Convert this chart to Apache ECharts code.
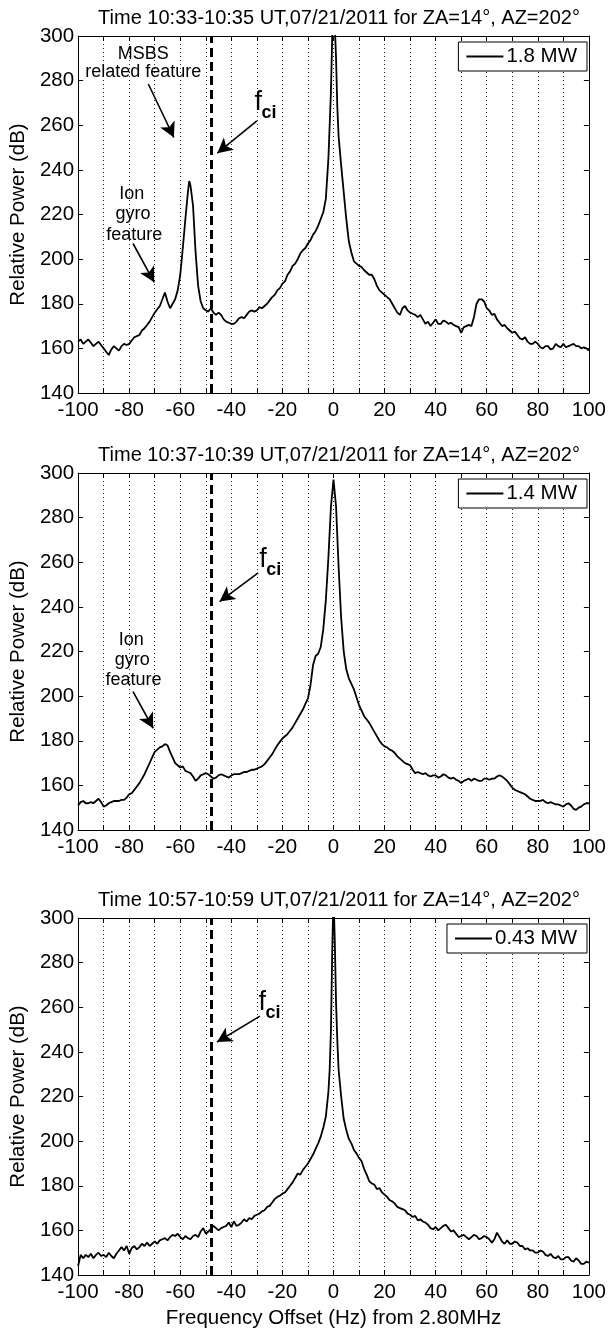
<!DOCTYPE html>
<html><head><meta charset="utf-8">
<script src="https://cdn.jsdelivr.net/npm/echarts@6/dist/echarts.min.js"></script>
<style>html,body{margin:0;padding:0;background:#fff}#c{width:609px;height:1336px}</style>
</head><body><div id="c"></div>
<script>
// ---------- DATA ----------
const titles = [
  'Time 10:33-10:35 UT,07/21/2011 for ZA=14°, AZ=202°',
  'Time 10:37-10:39 UT,07/21/2011 for ZA=14°, AZ=202°',
  'Time 10:57-10:59 UT,07/21/2011 for ZA=14°, AZ=202°'
];
const powerLabels = ['1.8 MW', '1.4 MW', '0.43 MW'];
const xTickLabels = [-100, -80, -60, -40, -20, 0, 20, 40, 60, 80, 100];
const yTickLabels = [140, 160, 180, 200, 220, 240, 260, 280, 300];
const fci = -48;

// [frequency offset (Hz), relative power (dB)]
const spectrum1 = [
[-100,163],[-99,164],[-98,162],[-97,163],[-96,164],[-95,162.5],[-94,161],[-93,162],[-92,163],[-91,161.5],[-90,160],[-89,158.5],[-88,157],[-87,159.5],[-86,161],[-85,160],[-84,159],[-83,161],[-82,162],[-81,161.5],[-80,162],[-79,163.5],[-78,165],[-77,165.5],[-76,166],[-75,168],[-74,169],[-73,170.5],[-72,172],[-71,174],[-70,176],[-69,177.5],[-68,179],
[-67,182],[-66,185],[-65,181],[-64,178],[-63,180],[-62,182],[-61,186],[-60,193],[-59,205],[-58,218],[-57,230],[-56.5,235],[-56,233],[-55,224],[-54,203],[-53,188],[-52,181],[-51,178],[-50,177],[-49,176.5],[-48,178],[-47,176],[-46,175],[-45,176],[-44,175],[-43,173],[-42,172],[-41,171.5],[-40,171],[-39,171],[-38,172],[-37,173.5],[-36,174],[-35,173.5],[-34,175],[-33,176.5],[-32,177],[-31,176.5],[-30,177],[-29,178.5],[-28,178],[-27,179],[-26,180],[-25,181.5],[-24,183],[-23,184],[-22,186],[-21,187],[-20,189],[-19,190],[-18,193],[-17,194.5],[-16,197],[-15,198],[-14,200],[-13,202.5],[-12,204],[-11,205],[-10,207],[-9,208.5],[-8,211],[-7,212.5],[-6,215],[-5,218],[-4,221],[-3,227],[-2,245],[-1,275],[-0.5,300],[0,310],[0.5,305],[1,290],[1.5,268],[2,255],[3,242],[4,230],[5,218],[6,208],[7,203],[8,199],[9,198],[10,197],[11,196.5],[12,195],[13,194],[14,193],[15,193],[16,191],[17,188],[18,186],[19,185],
[20,184],[21,183],[22,182],[23,180],[24,178],[25,176],[26,175],[27,178],[28,179],[29,177],[30,176],[31,175.5],[32,175],[33,174],[34,175],[35,173],[36,171],[37,172],[38,170],[39,171.5],[40,173],[41,171],[42,171],[43,172.5],[44,172],[45,171],[46,171.5],[47,170.5],[48,170],[49,169.5],[50,167],[51,169.5],[52,170],[53,170.5],[54,170],[55,174],[56,180],[57,182],[58,182],[59,181],[60,178],[61,177],[62,175],[63,175.5],[64,173],[65,171.5],[66,170],[67,170.5],[68,169],[69,168],[70,167],[71,167.5],[72,166],[73,164.5],[74,164],[75,165],[76,163],[77,162],[78,162],[79,163],[80,162],[81,160.5],[82,160],[83,161],[84,161],[85,159.5],[86,160],[87,162],[88,161],[89,160.5],[90,162],[91,160.5],[92,161],[93,161.5],[94,162],[95,161],[96,161],[97,160],[98,160.5],[99,160],[100,159]
];

const spectrum2 = [
[-100,151],[-99,152.5],[-98,153],[-97,152],[-96,152],[-95,152.5],[-94,152],[-93,153],[-92,154],[-91,152.5],[-90,150.5],[-89,151],[-88,152],[-87,152.5],[-86,153],[-85,153],[-84,153],[-83,153.5],[-82,153.5],[-81,154.5],[-80,156],[-79,156.5],[-78,158],[-77,159.5],[-76,161],[-75,163],[-74,165],[-73,167.5],[-72,170],[-71,172.5],[-70,175],[-69,176],[-68,177],[-67,177.5],[-66,178.5],[-65,178],[-64,175],[-63,172.5],[-62,170],[-61,169],[-60,168],[-59,168.5],[-58,166.5],[-57,166],[-56,165.5],[-55,164],[-54,162],[-53,163],[-52,164.5],[-51,165],[-50,165.5],[-49,165],[-48,164],[-47,163],[-46,163.5],[-45,164.5],[-44,165],[-43,164.5],[-42,164],[-41,163.5],[-40,164.5],[-39,165],[-38,165],[-37,165],[-36,165.5],[-35,166],[-34,166],[-33,166.5],[-32,167],[-31,167],[-30,167.5],[-29,168],[-28,168.5],[-27,169.5],[-26,171],[-25,172.5],[-24,174],[-23,176],[-22,178],[-21,179.5],[-20,181],[-19,182],[-18,183],[-17,184.5],[-16,186],[-15,188],[-14,190],[-13,192],[-12,194],[-11,196.5],[-10,199],[-9,205],[-8,214],[-7,218],[-6,219],[-5,222],[-4,230],[-3,243],[-2,262],[-1,285],[0,297],[1,285],[2,258],[3,235],[4,220],[5,212],[6,208],[7,205.5],[8,203],[9,199.5],[10,196],[11,193.5],[12,191],[13,189.5],[14,188],[15,186],[16,184],[17,182],[18,180],[19,178.5],[20,177.5],[21,177],[22,176],[23,175.5],[24,174.5],[25,173],[26,172],[27,171],[28,170],[29,169.5],[30,169],[31,167],[32,165.5],[33,166],[34,165.5],[35,165],[36,165.5],[37,164.5],[38,164],[39,164.5],[40,164.5],[41,163.5],[42,164],[43,165],[44,164.5],[45,163.5],[46,163],[47,163.5],[48,162.5],[49,162],[50,161],[51,162],[52,162.5],[53,163],[54,162],[55,163],[56,162.5],[57,162],[58,162],[59,163],[60,163],[61,162.5],[62,163],[63,163],[64,164],[65,164.5],[66,164],[67,163],[68,162],[69,160.5],[70,159],[71,158],[72,157.5],[73,157],[74,156.5],[75,156],[76,155],[77,154],[78,153.5],[79,153],[80,153],[81,153],[82,153.5],[83,152.5],[84,152],[85,152.5],[86,152],[87,151.5],[88,151.5],[89,151],[90,150.5],[91,151.5],[92,152],[93,151],[94,149.5],[95,149],[96,150],[97,150.5],[98,151.5],[99,152],[100,152]
];

const spectrum3 = [
[-100,144],[-99,149],[-98,147.5],[-97,149],[-96,148],[-95,149.5],[-94,147.5],[-93,149],[-92,150],[-91,148.5],[-90,149],[-89,148],[-88,150],[-87,148.5],[-86,147.5],[-85,149.5],[-84,151],[-83,152.5],[-82,151],[-81,153],[-80,149.5],[-79,152],[-78,153],[-77,151.5],[-76,152.5],[-75,154],[-74,153],[-73,154.5],[-72,153],[-71,154],[-70,155],[-69,154],[-68,155.5],[-67,156],[-66,156.5],[-65,155.5],[-64,157],[-63,158],[-62,157.5],[-61,158.5],[-60,157],[-59,156],[-58,157.5],[-57,156.5],[-56,156],[-55,157.5],[-54,158],[-53,157],[-52,159.5],[-51,161],[-50,158.5],[-49,159.5],[-48,160.5],[-47,162],[-46,161],[-45,160],[-44,161],[-43,161.5],[-42,162],[-41,163.5],[-40,161.5],[-39,164],[-38,162],[-37,162.5],[-36,163.5],[-35,165],[-34,164],[-33,165.5],[-32,165],[-31,166.5],[-30,167],[-29,167.5],[-28,168.5],[-27,169],[-26,170.5],[-25,171],[-24,172.5],[-23,174],[-22,175],[-21,175.5],[-20,176.5],[-19,177],[-18,178.5],[-17,180],[-16,181.5],[-15,183.5],[-14,185.5],[-13,185],[-12,187],[-11,188.5],[-10,190],[-9,192],[-8,194],[-7,196.5],[-6,199],
[-5,202],[-4,206],[-3,211],[-2,222],[-1.5,232],[-1,250],[-0.5,285],[0,310],[0.5,290],[1,262],[1.5,245],[2,232],[3,220],[4,210],[5,205],
[6,201],[7,199],[8,196],[9,194.5],[10,192.5],[11,191],[12,187.5],[13,185],[14,182],[15,181],[16,180.5],[17,178.5],[18,179],[19,177],[20,176],[21,175],[22,173.5],[23,173],[24,172],[25,170.5],[26,170],[27,169.5],[28,169],[29,167.5],[30,167],[31,166],[32,166.5],[33,164.5],[34,165],[35,164],[36,163.5],[37,162.5],[38,161],[39,160.5],[40,161.5],[41,160],[42,161],[43,162],[44,162.5],[45,161],[46,159.5],[47,160],[48,158.5],[49,157],[50,157.5],[51,158],[52,157],[53,156],[54,157],[55,158],[56,157.5],[57,156],[58,156.5],[59,157.5],[60,157],[61,156],[62,154.5],[63,156],[64,159],[65,157],[66,155],[67,154],[68,155.5],[69,154],[70,154],[71,155],[72,154.5],[73,153],[74,153],[75,151.5],[76,152],[77,151],[78,151],[79,150],[80,150],[81,151],[82,150.5],[83,149],[84,148.5],[85,149.5],[86,148],[87,147.5],[88,148.5],[89,147],[90,147],[91,148],[92,148],[93,146.5],[94,146],[95,147.5],[96,146.5],[97,145],[98,145],[99,146],[100,145.5]
];

// annotation texts [text, x, y] and arrows [x1, y1, x2, y2] (data coordinates)
const notes1 = [['MSBS', -74.5, 292], ['related feature', -74.5, 284], ['Ion', -79, 229], ['gyro', -78.5, 220], ['feature', -78, 211]];
const notes2 = [['Ion', -79.2, 225.3], ['gyro', -78.8, 216.3], ['feature', -78.3, 207.3]];
const notes3 = [];
const fciText = [[-29.5, 270], [-27.6, 261], [-27.9, 262]];
const arrows1 = [[-72.5, 278.5, -62.5, 254.5], [-78.5, 207, -70.2, 189.6], [-30, 262, -45.5, 247.5]];
const arrows2 = [[-78.5, 202, -70.6, 185.6], [-29.5, 255.2, -44.6, 242.4]];
const arrows3 = [[-28.8, 256, -45.6, 244.4]];

// ---------- LAYOUT ----------
const FONT = "'Liberation Sans', Arial, sans-serif";
const gridTops = [36, 473, 918];
const plotH = 357, plotL = 76, plotR = 16;
const spectra = [spectrum1, spectrum2, spectrum3];
const notes = [notes1, notes2, notes3], arrows = [arrows1, arrows2, arrows3];

const grid = [], xAxis = [], yAxis = [], series = [], title = [], legend = [];
for (let g = 0; g < 3; g++) {
  grid.push({left: plotL, right: plotR, top: gridTops[g], height: plotH, containLabel: false});
  title.push({text: titles[g], left: plotL + 258, top: gridTops[g] - 33, textAlign: 'center',
    textStyle: {fontFamily: FONT, fontSize: 20, fontWeight: 'normal', color: '#000'}});
  legend.push({data: [powerLabels[g]], right: 22, top: gridTops[g] + 6, orient: 'vertical',
    icon: 'rect', itemWidth: 37, itemHeight: 2, padding: [4, 10, 4, 8],
    backgroundColor: '#fff', borderColor: '#000', borderWidth: 1, borderRadius: 0,
    textStyle: {fontFamily: FONT, fontSize: 20.5, color: '#000', padding: [0, 0, 0, -2]}});
  const tickStyle = {inside: true, length: 5, lineStyle: {color: '#000', width: 1}};
  xAxis.push({type: 'value', gridIndex: g, min: -100, max: 100, interval: 10, position: 'bottom',
    axisLine: {show: true, onZero: false, lineStyle: {color: '#000', width: 1}},
    axisTick: tickStyle,
    axisLabel: {formatter: v => xTickLabels.includes(v) ? String(v) : '', color: '#000', fontSize: 20.5, fontFamily: FONT, margin: 7},
    splitLine: {show: true, lineStyle: {color: '#222', type: [1, 3], width: 1}},
    name: g === 2 ? 'Frequency Offset (Hz) from 2.80MHz' : '', nameLocation: 'middle', nameGap: 33,
    nameTextStyle: {fontFamily: FONT, fontSize: 20.5, color: '#000'}});
  xAxis.push({type: 'value', gridIndex: g, min: -100, max: 100, interval: 10, position: 'top',
    axisLine: {show: true, onZero: false, lineStyle: {color: '#000', width: 1}},
    axisTick: tickStyle, axisLabel: {show: false}, splitLine: {show: false}});
  yAxis.push({type: 'value', gridIndex: g, min: 140, max: 300, interval: 20, position: 'left',
    axisLine: {show: true, onZero: false, lineStyle: {color: '#000', width: 1}},
    axisTick: tickStyle,
    axisLabel: {formatter: v => yTickLabels.includes(v) ? String(v) : '', color: '#000', fontSize: 20.5, fontFamily: FONT, margin: 4},
    splitLine: {show: false},
    name: 'Relative Power (dB)', nameLocation: 'middle', nameGap: 46,
    nameTextStyle: {fontFamily: FONT, fontSize: 20.5, color: '#000'}});
  yAxis.push({type: 'value', gridIndex: g, min: 140, max: 300, interval: 20, position: 'right',
    axisLine: {show: true, onZero: false, lineStyle: {color: '#000', width: 1}},
    axisTick: tickStyle, axisLabel: {show: false}, splitLine: {show: false}});

  const mlData = [{xAxis: fci, symbol: 'none', lineStyle: {type: [9, 5], width: 3, color: '#000'}}];
  arrows[g].forEach(a => mlData.push([
    {coord: [a[0], a[1]], symbol: 'none'},
    {coord: [a[2], a[3]], symbol: 'arrow', symbolSize: [12, 15]}
  ]));
  const mpData = notes[g].map(n => ({coord: [n[1], n[2]], label: {formatter: n[0], fontSize: 18}}));
  const f = fciText[g];
  mpData.push({coord: [f[0], f[1]], label: {formatter: 'f', fontSize: 27}});
  mpData.push({coord: [f[0] + 4.2, f[1] - 4.5], label: {formatter: 'ci', fontSize: 18, fontWeight: 'bold'}});

  series.push({
    name: powerLabels[g], type: 'line', xAxisIndex: 2 * g, yAxisIndex: 2 * g,
    data: spectra[g], symbol: 'none', clip: true,
    lineStyle: {color: '#000', width: 1.8}, itemStyle: {color: '#000'},
    markLine: {silent: true, animation: false, symbol: ['none', 'none'], label: {show: false},
      lineStyle: {color: '#000', width: 1.6, type: 'solid'}, emphasis: {disabled: true}, data: mlData},
    markPoint: {silent: true, animation: false, symbol: 'circle', symbolSize: 1,
      itemStyle: {color: 'rgba(0,0,0,0)'},
      label: {show: true, position: 'inside', color: '#000', fontFamily: FONT},
      data: mpData}
  });
}

const chart = echarts.init(document.getElementById('c'), null, {renderer: 'canvas'});
chart.setOption({animation: false, backgroundColor: '#fff', title, legend, grid, xAxis, yAxis, series});
</script></body></html>
